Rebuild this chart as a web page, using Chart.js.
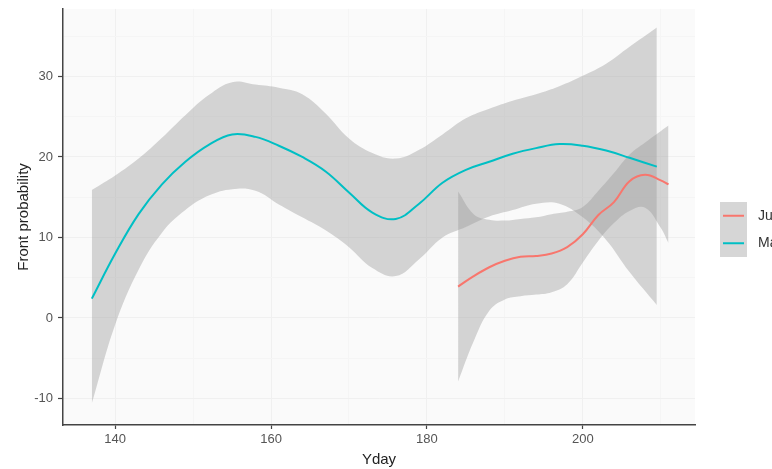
<!DOCTYPE html>
<html>
<head>
<meta charset="utf-8">
<script src="https://cdn.jsdelivr.net/npm/chart.js@4.4.1/dist/chart.umd.min.js"></script>
<style>
    html, body { margin: 0; padding: 0; background: #ffffff; }
    #wrap { width: 772px; height: 469px; position: relative; }
</style>
</head>
<body>
<div id="wrap"><canvas id="frontChart"></canvas></div>
<script>
// smoothed fit + confidence band
const mayDays  = [137, 140, 143, 146, 149, 152, 155, 158, 161, 164, 167, 170, 173, 176, 179, 182, 185, 188, 191, 194, 197, 200, 203, 206, 209.5];
const mayFit   = [2.4, 8.0, 12.9, 16.6, 19.4, 21.5, 22.8, 22.5, 21.4, 20.0, 18.2, 15.6, 13.1, 12.3, 14.2, 16.8, 18.4, 19.4, 20.4, 21.1, 21.6, 21.4, 20.8, 19.9, 18.8];
const mayUpper = [15.9, 17.7, 19.8, 22.4, 25.2, 27.7, 29.3, 29.0, 28.6, 27.8, 25.4, 22.3, 20.5, 19.8, 20.9, 22.8, 24.8, 26.0, 27.0, 27.8, 28.8, 30.1, 31.6, 33.7, 36.1];
const mayLower = [-10.6, -0.8, 6.0, 10.6, 13.4, 15.2, 16.0, 15.8, 14.1, 12.5, 10.9, 8.8, 6.2, 5.2, 7.3, 10.0, 11.3, 12.6, 13.4, 14.2, 14.2, 12.5, 9.7, 5.7, 1.6];

const junDays  = [184, 186, 188, 190, 192, 194, 196, 198, 200, 202, 204, 206, 208, 210, 211];
const junFit   = [3.9, 5.2, 6.3, 7.1, 7.6, 7.7, 8.0, 8.8, 10.4, 12.8, 14.4, 17.0, 17.8, 17.1, 16.6];
const junUpper = [15.7, 12.9, 12.2, 12.1, 12.3, 12.5, 12.9, 13.2, 13.8, 15.8, 18.0, 20.3, 21.8, 23.2, 23.9];
const junLower = [-7.9, -2.9, 0.9, 2.3, 2.7, 2.9, 3.2, 4.2, 6.9, 9.6, 11.8, 13.3, 13.7, 11.2, 9.3];

const seriesNames = ['June', 'May'];
const seriesColors = ['#F8766D', '#00BFC4'];

const xGrid = [140, 150, 160, 170, 180, 190, 200, 210];
const xLabelled = [140, 160, 180, 200];
const yGrid = [-10, -5, 0, 5, 10, 15, 20, 25, 30, 35];
const yLabelled = [-10, 0, 10, 20, 30];

const bandFill = 'rgba(153, 153, 153, 0.4)';

function pts(days, vals) {
    return days.map((d, i) => ({ x: d, y: vals[i] }));
}

function band(days, up, lo) {
    return [
        { data: pts(days, up), fill: '+1', backgroundColor: bandFill, borderWidth: 0, pointRadius: 0, tension: 0.4, order: 2 },
        { data: pts(days, lo), fill: false, borderWidth: 0, pointRadius: 0, tension: 0.4, order: 2 }
    ];
}

function fitLine(days, vals, color) {
    return { data: pts(days, vals), fill: false, borderColor: color, borderWidth: 2, pointRadius: 0, tension: 0.4, order: 1 };
}

const panelBackground = {
    id: 'panelBackground',
    beforeDraw(chart) {
        const { ctx, chartArea: a } = chart;
        ctx.save();
        ctx.fillStyle = '#fafafa';
        ctx.fillRect(a.left, a.top, a.right - a.left, a.bottom - a.top);
        ctx.restore();
    }
};

// ggplot style legend: grey key with a coloured stroke
const keyLegend = {
    id: 'keyLegend',
    afterDraw(chart) {
        const ctx = chart.ctx;
        const x = 720, y = 202, w = 27, h = 27.5;
        ctx.save();
        ctx.fillStyle = '#d6d6d6';
        ctx.fillRect(x, y, w, h * seriesNames.length);
        seriesNames.forEach((name, i) => {
            const cy = y + h * i + h / 2;
            ctx.strokeStyle = seriesColors[i];
            ctx.lineWidth = 2;
            ctx.beginPath();
            ctx.moveTo(x + 3, cy);
            ctx.lineTo(x + w - 3, cy);
            ctx.stroke();
            ctx.fillStyle = '#333333';
            ctx.font = '14px "Liberation Sans", Arial, sans-serif';
            ctx.textBaseline = 'middle';
            ctx.fillText(name, 758, cy);
        });
        ctx.restore();
    }
};

Chart.defaults.font.family = '"Liberation Sans", Arial, sans-serif';

new Chart(document.getElementById('frontChart'), {
    type: 'line',
    data: {
        datasets: [
            fitLine(mayDays, mayFit, seriesColors[1]),
            fitLine(junDays, junFit, seriesColors[0]),
            ...band(mayDays, mayUpper, mayLower),
            ...band(junDays, junUpper, junLower)
        ]
    },
    options: {
        responsive: true,
        maintainAspectRatio: false,
        animation: false,
        layout: { padding: { top: 8, right: 77, left: 0, bottom: 0 } },
        plugins: {
            legend: { display: false },
            tooltip: { enabled: false }
        },
        scales: {
            x: {
                type: 'linear',
                min: 133.3,
                max: 214.4,
                afterBuildTicks: s => { s.ticks = xGrid.map(v => ({ value: v })); },
                afterFit: s => { s.height = 44; },
                grid: {
                    color: c => xLabelled.includes(c.tick.value) ? '#f0f0f0' : '#f5f5f5',
                    tickColor: c => xLabelled.includes(c.tick.value) ? '#444444' : 'rgba(0,0,0,0)',
                    tickLength: 4,
                    tickWidth: 1.2
                },
                border: { color: '#444444', width: 1.5 },
                ticks: {
                    autoSkip: false,
                    maxRotation: 0,
                    padding: 3,
                    color: '#555555',
                    font: { size: 13 },
                    callback: v => xLabelled.includes(v) ? String(v) : ''
                },
                title: {
                    display: true,
                    text: 'Yday',
                    color: '#222222',
                    font: { size: 15 },
                    padding: { top: 0, bottom: 0 }
                }
            },
            y: {
                type: 'linear',
                min: -13.3,
                max: 38.4,
                afterBuildTicks: s => { s.ticks = yGrid.map(v => ({ value: v })); },
                afterFit: s => { s.width = 63; },
                grid: {
                    color: c => yLabelled.includes(c.tick.value) ? '#f0f0f0' : '#f5f5f5',
                    tickColor: c => yLabelled.includes(c.tick.value) ? '#444444' : 'rgba(0,0,0,0)',
                    tickLength: 5,
                    tickWidth: 1.2
                },
                border: { color: '#444444', width: 1.5 },
                ticks: {
                    autoSkip: false,
                    padding: 5,
                    color: '#555555',
                    font: { size: 13, lineHeight: 0.6 },
                    callback: v => yLabelled.includes(v) ? String(v) : ''
                },
                title: {
                    display: true,
                    text: 'Front probability',
                    color: '#222222',
                    font: { size: 15 },
                    padding: { top: 15, bottom: 0 }
                }
            }
        }
    },
    plugins: [panelBackground, keyLegend]
});
</script>
</body>
</html>
